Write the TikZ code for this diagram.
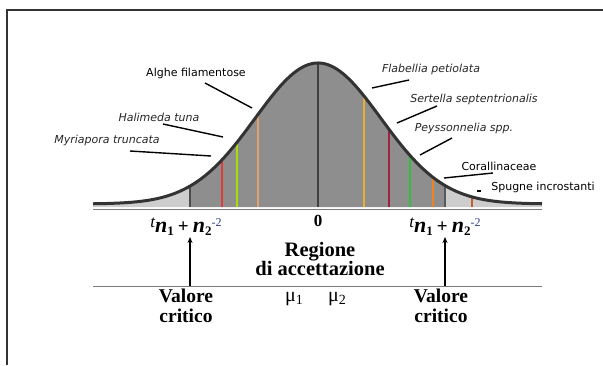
\documentclass[tikz,border=0pt]{standalone}
\usepackage{fontspec}
\setmainfont{Liberation Serif}
\newfontfamily\dv{DejaVu Sans}
\usetikzlibrary{arrows.meta}
\definecolor{darkg}{HTML}{8E8E8E}
\definecolor{lightg}{HTML}{CDCDCD}
\definecolor{curvec}{HTML}{333333}
\definecolor{baseg}{HTML}{7A7A7A}
\definecolor{lblue}{HTML}{2A3F8F}
\definecolor{cRed}{HTML}{E03A3A}
\definecolor{cLime}{HTML}{A6E000}
\definecolor{cTan}{HTML}{E0A070}
\definecolor{cGold}{HTML}{E8B030}
\definecolor{cMaroon}{HTML}{A02040}
\definecolor{cGreen}{HTML}{30C040}
\definecolor{cOrange}{HTML}{F08020}
\definecolor{cBrown}{HTML}{C06030}
\newcommand{\tlab}{\raisebox{5pt}{\fontsize{17}{17}\selectfont\itshape t}{\fontsize{22}{22}\selectfont\bfseries\itshape n}\raisebox{-3pt}{\fontsize{13}{13}\selectfont\bfseries 1}\hspace{4pt}{\fontsize{19}{19}\selectfont\bfseries +}\hspace{4pt}{\fontsize{22}{22}\selectfont\bfseries\itshape n}\raisebox{-3pt}{\fontsize{13}{13}\selectfont\bfseries 2}\raisebox{6pt}{\fontsize{12}{12}\selectfont\color{lblue}-2}}
\begin{document}
\begin{tikzpicture}[x=1pt,y=-1pt,
  declare function={gy(\x)=204-141*exp(-0.5*((\x-318)/63)*((\x-318)/63));},
  sp/.style={font=\dv\fontsize{11}{12}\selectfont, text=black, inner sep=0pt},
  spi/.style={font=\dv\itshape\fontsize{11}{12}\selectfont, text=black!85, inner sep=0pt},
  leader/.style={line width=1.4pt, black},
  bold/.style={font=\bfseries\fontsize{19.5}{19.5}\selectfont, align=center, inner sep=0pt}]
\useasboundingbox (0,0) rectangle (603,365);
% frame
\draw[curvec, line width=1.5pt] (7,365) -- (7,10) -- (603,10);
% fills
\fill[lightg] (93,207) -- plot[domain=93:190, samples=60] (\x,{gy(\x)}) -- (190,207) -- cycle;
\fill[darkg] (190,207) -- plot[domain=190:445, samples=150] (\x,{gy(\x)}) -- (445,207) -- cycle;
\fill[lightg] (445,207) -- plot[domain=445:542, samples=60] (\x,{gy(\x)}) -- (542,207) -- cycle;
% vertical lines
\foreach \xx/\cc/\ww in {190/black!70/1.4, 222/cRed/1.2, 237/cLime/2, 258/cTan/1.2, 318/black!75/1.4, 364/cGold/1.3, 389/cMaroon/1.3, 410/cGreen/2, 433/cOrange/1.4, 445/black!65/1.4, 472/cBrown/1.6}
  \draw[\cc, line width=\ww pt] (\xx,207) -- (\xx,{gy(\xx)});
% curve
\draw[curvec, line width=3pt] plot[domain=93:542, samples=200] (\x,{gy(\x)});
% baseline
\draw[baseg, line width=1.6pt] (93,209.5) -- (542,209.5);
% labels
\node[sp]  (alghe) at (196,73) {Alghe filamentose};
\node[spi] (hali)  at (159,117) {Halimeda tuna};
\node[spi] (myri)  at (107,140) {Myriapora truncata};
\node[spi] (flab)  at (431,69) {Flabellia petiolata};
\node[spi] (sert)  at (474,99) {Sertella septentrionalis};
\node[spi] (peys)  at (464,128) {Peyssonnelia spp.};
\node[sp]  (cora)  at (499,166) {Corallinaceae};
\node[sp]  (spug)  at (543,187) {Spugne incrostanti};
% leaders
\coordinate (a1) at (205,83);  \coordinate (a2) at (252,108);
\coordinate (h1) at (163,124); \coordinate (h2) at (223,137);
\coordinate (m1) at (130,151); \coordinate (m2) at (211,156);
\coordinate (f1) at (409,80);  \coordinate (f2) at (372,88);
\coordinate (s1) at (437,106); \coordinate (s2) at (397,123);
\coordinate (p1) at (452,138); \coordinate (p2) at (420,155);
\coordinate (c1) at (493,173); \coordinate (c2) at (444,178);
\coordinate (g1) at (481,191); \coordinate (g2) at (477,191);
\foreach \u/\v in {a1/a2,h1/h2,m1/m2,f1/f2,s1/s2,p1/p2,c1/c2,g1/g2}
  \draw[leader] (\u) -- (\v);
% bottom axis labels
\node[inner sep=0pt] (tl) at (186,227) {\tlab};
\node[inner sep=0pt] (tr) at (445,227) {\tlab};
\node[bold, font=\bfseries\fontsize{17}{17}\selectfont] (zero) at (318,221) {0};
\node[bold, font=\bfseries\fontsize{20.5}{19}\selectfont] (reg) at (320,259) {Regione\\di accettazione};
\draw[baseg, line width=1.6pt] (93,286.5) -- (542,286.5);
\coordinate (b1) at (190,286);
\coordinate (b2) at (445,286);
\draw[black, line width=1.3pt, -{Stealth[length=6pt,width=5pt]}] (b1) -- (190,237);
\draw[black, line width=1.3pt, -{Stealth[length=6pt,width=5pt]}] (b2) -- (445,237);
\node[bold] (v1) at (186,306) {Valore\\critico};
\node[bold] (v2) at (441,306) {Valore\\critico};
\node[inner sep=0pt, font=\fontsize{20}{20}\selectfont] (mu1) at (294,299) {μ\raisebox{-3pt}{\fontsize{14}{14}\selectfont 1}};
\node[inner sep=0pt, font=\fontsize{20}{20}\selectfont] (mu2) at (337,299) {μ\raisebox{-3pt}{\fontsize{14}{14}\selectfont 2}};
\end{tikzpicture}
\end{document}
